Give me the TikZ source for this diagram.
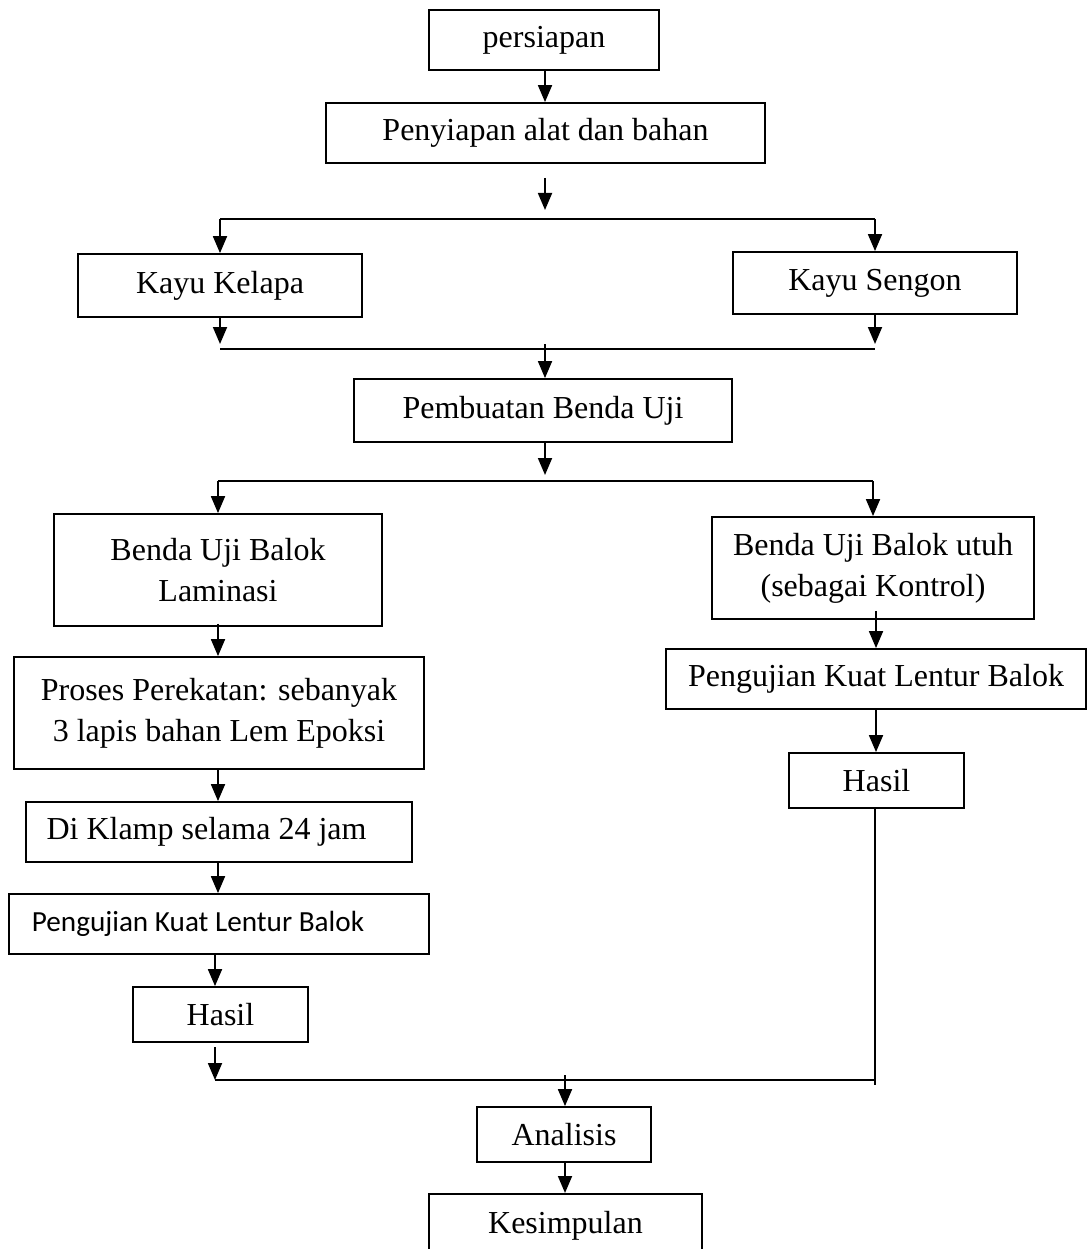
\documentclass[tikz,border=0pt]{standalone}
\usepackage{fontspec}
\setmainfont{Liberation Serif}
\newfontfamily\calfont{Carlito}
\usetikzlibrary{arrows.meta,calc}
\begin{document}
\begin{tikzpicture}[x=1pt,y=-1pt,
  box/.style={draw, line width=1.8pt, inner sep=0pt, align=center, font=\fontsize{32}{41}\selectfont},
  arr/.style={line width=1.8pt, -{Triangle[width=14pt,length=17pt]}},
  ln/.style={line width=1.8pt}]
\useasboundingbox (0,0) rectangle (1087,1249);
\clip (0,0) rectangle (1087,1249);

% nodes
\node[box, minimum width=230pt, minimum height=60pt] (persiapan) at (544,40) {persiapan};
\node[box, minimum width=439pt, minimum height=60pt] (penyiapan) at (545.5,133) {Penyiapan alat dan bahan};
\node[box, minimum width=284pt, minimum height=63pt] (kelapa) at (220,285.5) {Kayu Kelapa};
\node[box, minimum width=284pt, minimum height=62pt] (sengon) at (875,283) {Kayu Sengon};
\node[box, minimum width=378pt, minimum height=63pt] (pembuatan) at (543,410.5) {Pembuatan Benda Uji};
\node[box, minimum width=328pt, minimum height=112pt] (laminasi) at (218,570) {Benda Uji Balok\\Laminasi};
\node[box, minimum width=322pt, minimum height=102pt] (utuh) at (873,568) {Benda Uji Balok utuh\\(sebagai Kontrol)};
\node[box, minimum width=410pt, minimum height=112pt] (proses) at (219,713) {Proses Perekatan: sebanyak\\3 lapis bahan Lem Epoksi};
\node[box, minimum width=386pt, minimum height=60pt] (klamp) at (219,832) {Di Klamp selama 24 jam\hspace*{25pt}};
\node[box, minimum width=420pt, minimum height=60pt, font=\calfont\fontsize{29.2}{35}\selectfont] (ujiL) at (219,924) {Pengujian Kuat Lentur Balok\hspace*{42pt}};
\node[box, minimum width=175pt, minimum height=55pt] (hasilL) at (220.5,1014.5) {Hasil};
\node[box, minimum width=420pt, minimum height=60pt] (ujiR) at (876,679) {Pengujian Kuat Lentur Balok};
\node[box, minimum width=175pt, minimum height=55pt] (hasilR) at (876.5,780.5) {Hasil};
\node[box, minimum width=174pt, minimum height=55pt] (analisis) at (564,1134.5) {Analisis};
\node[box, anchor=north, minimum width=273pt, text height=21pt, text depth=80pt, inner ysep=19pt] (kes) at (565.5,1193) {Kesimpulan};

% coordinates for free ends and bus lines
\coordinate (s1) at (545,178);
\coordinate (t1) at (545,210);
\coordinate (b1L) at (220,219);
\coordinate (b1R) at (875,219);
\coordinate (t2L) at (220,344);
\coordinate (t2R) at (875,344);
\coordinate (b2L) at (220,349);
\coordinate (b2R) at (875,349);
\coordinate (c2) at (545,344);
\coordinate (t3) at (545,475);
\coordinate (b3L) at (218,481);
\coordinate (b3R) at (873,481);
\coordinate (s4L) at (215,1047);
\coordinate (t4L) at (215,1080);
\coordinate (b4R) at (875,1080);
\coordinate (e4R) at (875,1085);
\coordinate (c4) at (565,1075);

% connectors
\draw[arr] (persiapan.south -| s1) -- (penyiapan.north -| s1);
\draw[arr] (s1) -- (t1);
\draw[ln] (b1L) -- (b1R);
\draw[arr] (b1L) -- (b1L |- kelapa.north);
\draw[arr] (b1R) -- (b1R |- sengon.north);
\draw[arr] (kelapa.south -| t2L) -- (t2L);
\draw[arr] (sengon.south -| t2R) -- (t2R);
\draw[ln] (b2L) -- (b2R);
\draw[arr] (c2) -- (c2 |- pembuatan.north);
\draw[arr] (pembuatan.south -| t3) -- (t3);
\draw[ln] (b3L) -- (b3R);
\draw[arr] (b3L) -- (b3L |- laminasi.north);
\draw[arr] (b3R) -- (b3R |- utuh.north);
\draw[arr] ([yshift=3pt]laminasi.south) -- (laminasi.south |- proses.north);
\draw[arr] (proses.south -| laminasi.south) -- (klamp.north -| laminasi.south);
\draw[arr] (klamp.south -| laminasi.south) -- (ujiL.north -| laminasi.south);
\draw[arr] (ujiL.south -| s4L) -- (hasilL.north -| s4L);
\draw[arr] (s4L) -- (t4L);
\draw[ln] (t4L) -- (b4R);
\draw[arr] ([yshift=9pt]utuh.south -| ujiR.north) -- (ujiR.north);
\draw[arr] (ujiR.south) -- (ujiR.south |- hasilR.north);
\draw[ln] (hasilR.south -| e4R) -- (e4R);
\draw[arr] (c4) -- (c4 |- analisis.north);
\draw[arr] (analisis.south -| c4) -- (c4 |- kes.north);
\end{tikzpicture}
\end{document}
